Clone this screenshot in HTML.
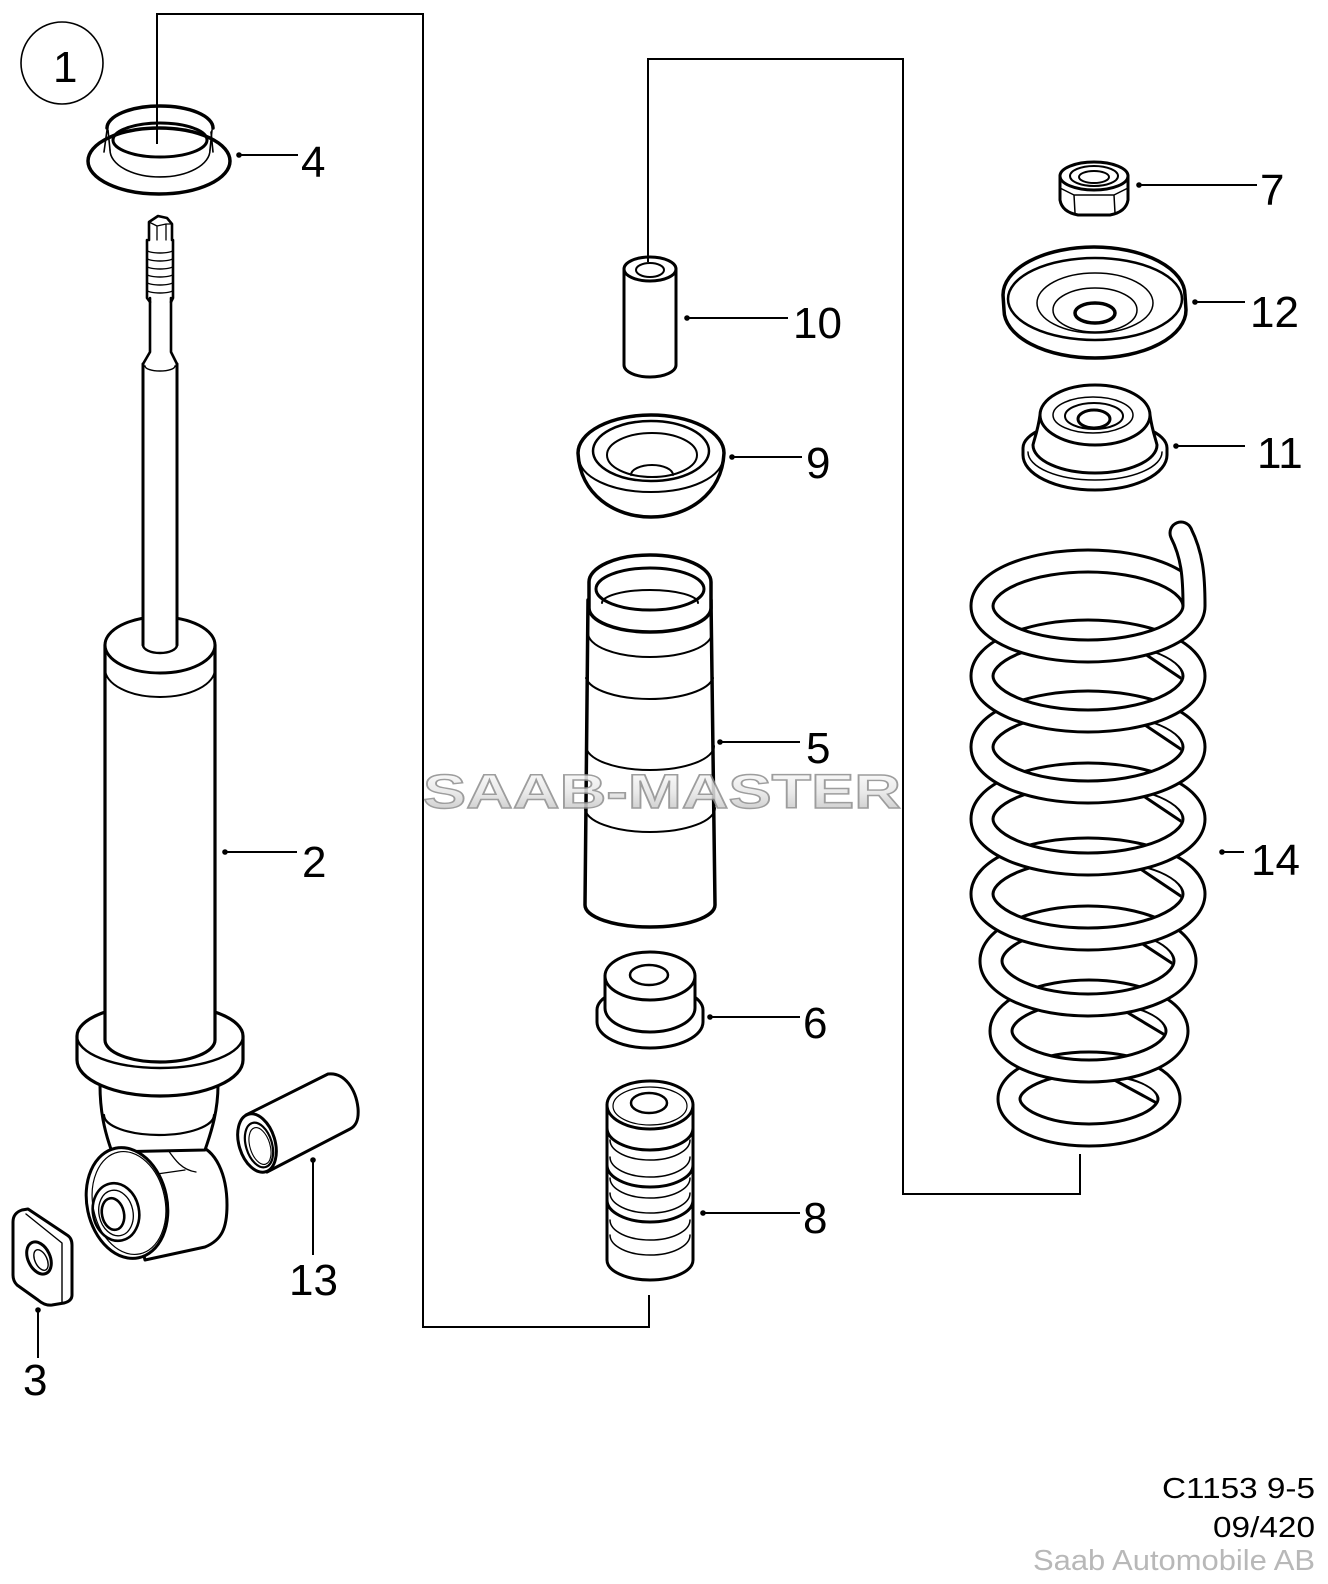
<!DOCTYPE html>
<html><head><meta charset="utf-8">
<style>html,body{margin:0;padding:0;background:#fff}svg{display:block}</style>
</head>
<body>
<svg width="1328" height="1584" viewBox="0 0 1328 1584" xmlns="http://www.w3.org/2000/svg">
<defs>
  <linearGradient id="wm" x1="0" y1="0" x2="0" y2="1">
    <stop offset="0" stop-color="#ffffff"/>
    <stop offset="0.5" stop-color="#e6e6e6"/>
    <stop offset="1" stop-color="#b8b8b8"/>
  </linearGradient>
  <clipPath id="h2"><ellipse cx="1088" cy="676" rx="93.5" ry="32.5"/></clipPath>
  <clipPath id="h3"><ellipse cx="1088" cy="747" rx="93.5" ry="32.5"/></clipPath>
  <clipPath id="h4"><ellipse cx="1088" cy="819" rx="93.5" ry="32.5"/></clipPath>
  <clipPath id="h5"><ellipse cx="1088" cy="894" rx="93.5" ry="32.5"/></clipPath>
  <clipPath id="h6"><ellipse cx="1088" cy="961" rx="84.5" ry="31.5"/></clipPath>
  <clipPath id="h7"><ellipse cx="1089" cy="1031" rx="75.5" ry="27.5"/></clipPath>
  <clipPath id="h8"><ellipse cx="1089" cy="1099" rx="67.5" ry="23.5"/></clipPath>
</defs>
<rect width="1328" height="1584" fill="#fff"/>

<g fill="none" stroke="#000" stroke-linecap="round" stroke-linejoin="round">

<!-- circle 1 -->
<circle cx="62" cy="63" r="41" stroke-width="1.6"/>

<!-- ===== Part 4 ===== -->
<ellipse cx="159" cy="161" rx="71" ry="33" stroke-width="3.5" fill="#fff"/>
<path d="M110,150 A50,27 0 0 0 210,150" stroke-width="1.6"/>
<path d="M107,130 L104,152 M211,132 L213,152" stroke-width="1.6"/>
<path d="M108,130 L110,150 M212,130 L210,150" stroke-width="1.6"/>
<path d="M107,128 A53,22 0 0 1 213,128" stroke-width="3.5"/>
<path d="M113,140 A47,17 0 0 1 207,140" stroke-width="3"/>
<path d="M113,140 A47,17 0 0 0 207,140" stroke-width="3"/>

<!-- ===== Part 2 shock ===== -->
<path d="M118,1147 L196,1145 C216,1149 227,1175 227,1205 C227,1228 222,1240 205,1247 L145,1260 Z" fill="#fff" stroke-width="3"/>
<path d="M100,1085 C100,1110 104,1130 112,1152 L205,1150 C212,1130 218,1110 218,1085 Z" fill="#fff" stroke-width="3"/>
<path d="M104,1115 A55,20 0 0 0 214,1115" stroke-width="2.2"/>
<path d="M168,1150 C175,1160 182,1170 196,1172 M150,1175 L185,1170" stroke-width="1.3"/>
<ellipse cx="127" cy="1203" rx="40" ry="56" transform="rotate(-12 127 1203)" fill="#fff" stroke-width="3"/>
<ellipse cx="129" cy="1203" rx="36" ry="52" transform="rotate(-12 129 1203)" stroke-width="1.2"/>
<ellipse cx="116" cy="1212" rx="23" ry="29" transform="rotate(-12 116 1212)" stroke-width="2.6"/>
<ellipse cx="116" cy="1213" rx="17" ry="23" transform="rotate(-12 116 1213)" stroke-width="1.3"/>
<ellipse cx="113" cy="1214" rx="11" ry="16" transform="rotate(-12 113 1214)" stroke-width="2.6"/>
<path d="M77,1036 A83,32 0 0 1 243,1036 L243,1060 A83,36 0 0 1 77,1060 Z" fill="#fff" stroke-width="3.2"/>
<path d="M77,1036 A83,32 0 0 0 243,1036" stroke-width="2.4"/>
<path d="M105,645 L105,1040 A55,22 0 0 0 215,1040 L215,645 Z" fill="#fff" stroke-width="3.2"/>
<ellipse cx="160" cy="645" rx="55" ry="28" fill="#fff" stroke-width="3"/>
<path d="M105,669 A55,28 0 0 0 215,669" stroke-width="2"/>
<rect x="143" y="362" width="34" height="283" fill="#fff" stroke="none"/>
<path d="M143,364 L143,645 M177,364 L177,645" stroke-width="3"/>
<path d="M143,645 A17,8 0 0 0 177,645" stroke-width="2.4"/>
<path d="M150,298 L150,352 L143,364 M171,298 L171,352 L177,364" stroke-width="2.6"/>
<path d="M145,366 A15,5 0 0 0 175,366" stroke-width="1.4"/>
<path d="M147,240 L147,298 L150,302 M173,240 L173,298 L171,302" stroke-width="2.6"/>
<path d="M147,250 A13,3 0 0 0 173,250 M147,258 A13,3 0 0 0 173,258 M147,266 A13,3 0 0 0 173,266 M147,274 A13,3 0 0 0 173,274 M147,282 A13,3 0 0 0 173,282 M147,290 A13,3 0 0 0 173,290" stroke-width="1.4"/>
<path d="M149,240 L149,222 L158,216 L167,218 L172,224 L172,240" stroke-width="2.6" fill="#fff"/>
<path d="M149,222 L157,226 L166,224 L172,224 M157,226 L157,240 M166,224 L166,240" stroke-width="1.3"/>

<!-- ===== Part 3 washer ===== -->
<path d="M13,1222 Q13,1213 22,1210 L28,1209 L67,1235 Q72,1238 72,1245 L72,1295 Q72,1301 64,1303 L52,1305 Q45,1306 38,1300 L17,1285 Q13,1281 13,1275 Z" fill="#fff" stroke-width="3"/>
<path d="M26,1214 L62,1243 L62,1302" stroke-width="1.4"/>
<ellipse cx="39" cy="1258" rx="11" ry="17" transform="rotate(-25 39 1258)" stroke-width="3"/>
<ellipse cx="41" cy="1260" rx="6" ry="11" transform="rotate(-25 41 1260)" stroke-width="1.4"/>

<!-- ===== Part 13 sleeve ===== -->
<path d="M246,1115 L328,1074 C345,1072 356,1090 358,1108 C359,1120 356,1126 350,1129 L267,1172 Z" fill="#fff" stroke-width="3"/>
<ellipse cx="257" cy="1143" rx="18" ry="30" transform="rotate(-17 257 1143)" fill="#fff" stroke-width="3"/>
<ellipse cx="259" cy="1145" rx="13" ry="23" transform="rotate(-17 259 1145)" stroke-width="2.2"/>
<ellipse cx="260" cy="1146" rx="10" ry="19" transform="rotate(-17 260 1146)" stroke-width="1.1"/>

<!-- ===== Part 10 ===== -->
<path d="M624,269 L624,365 A26,12 0 0 0 676,365 L676,269 Z" fill="#fff" stroke-width="3"/>
<ellipse cx="650" cy="269" rx="26" ry="12" fill="#fff" stroke-width="3"/>
<ellipse cx="650" cy="270" rx="14" ry="7" stroke-width="2"/>

<!-- ===== Part 9 ===== -->
<path d="M578,453 C580,495 615,517 651,517 C687,517 722,495 724,453 A73,38 0 0 0 578,453 Z" fill="#fff" stroke-width="3.5"/>
<path d="M579,458 A72,34 0 0 0 723,458" stroke-width="2"/>
<ellipse cx="651" cy="451" rx="58" ry="30" stroke-width="2.5"/>
<ellipse cx="652" cy="455" rx="45" ry="22" stroke-width="2"/>
<path d="M631,475 A21,10 0 0 1 673,475" stroke-width="2"/>

<!-- ===== Part 5 ===== -->
<path d="M588,600 L585,905 A65,22 0 0 0 715,905 L711,600" fill="#fff" stroke-width="3.5"/>
<path d="M589,582 L589,608 A61,24 0 0 0 711,608 L711,582 A61,27 0 0 0 589,582 Z" fill="#fff" stroke-width="3.5"/>
<ellipse cx="650" cy="589" rx="54" ry="21" stroke-width="3"/>
<path d="M602,603 A48,13 0 0 1 698,603" stroke-width="2"/>
<path d="M588,633 A62,24 0 0 0 712,633" stroke-width="2"/>
<path d="M586,678 A64,24 0 0 0 713,678" stroke-width="2"/>
<path d="M586,746 A64,24 0 0 0 714,746" stroke-width="2"/>
<path d="M585,808 A65,24 0 0 0 715,808" stroke-width="2"/>

<!-- ===== Part 6 ===== -->
<path d="M597,1010 L597,1022 A53,26 0 0 0 703,1022 L703,1010 A53,24 0 0 0 597,1010 Z" fill="#fff" stroke-width="3"/>
<path d="M605,976 L605,1008 A45,24 0 0 0 695,1008 L695,976 Z" fill="#fff" stroke-width="3"/>
<ellipse cx="650" cy="976" rx="45" ry="24" fill="#fff" stroke-width="3"/>
<ellipse cx="649" cy="975" rx="19" ry="10" stroke-width="2.5"/>

<!-- ===== Part 8 ===== -->
<path d="M607,1105 L607,1260 A43,20 0 0 0 693,1260 L693,1105 Z" fill="#fff" stroke-width="3"/>
<ellipse cx="650" cy="1105" rx="43" ry="24" fill="#fff" stroke-width="3"/>
<ellipse cx="650" cy="1106" rx="37" ry="19" stroke-width="1.2"/>
<ellipse cx="649" cy="1103" rx="18" ry="10" stroke-width="2.5"/>
<path d="M607,1128 A43,22 0 0 0 693,1128 M607,1165 A43,22 0 0 0 693,1165 M607,1200 A43,22 0 0 0 693,1200" stroke-width="3"/>
<path d="M610,1140 A40,20 0 0 0 690,1140 M610,1157 A40,20 0 0 0 690,1157 M610,1178 A40,20 0 0 0 690,1178 M610,1193 A40,20 0 0 0 690,1193 M610,1220 A40,20 0 0 0 690,1220 M610,1235 A40,20 0 0 0 690,1235" stroke-width="1.5"/>

<!-- ===== Part 7 nut ===== -->
<path d="M1060,176 L1060,200 Q1062,212 1078,215 L1110,215 Q1126,212 1128,200 L1128,176 Z" fill="#fff" stroke-width="3"/>
<ellipse cx="1094" cy="176" rx="34" ry="14" fill="#fff" stroke-width="3"/>
<ellipse cx="1094" cy="176" rx="24" ry="10" stroke-width="2"/>
<ellipse cx="1094" cy="177" rx="15" ry="6" stroke-width="2"/>
<path d="M1060,188 L1074,195 L1114,195 L1128,188 M1074,195 L1075,213 M1114,195 L1115,213" stroke-width="1.5"/>

<!-- ===== Part 12 ===== -->
<path d="M1003,295 L1004,310 A91,48 0 0 0 1186,310 L1185,295 A91,48 0 0 0 1003,295 Z" fill="#fff" stroke-width="3.5"/>
<ellipse cx="1095" cy="299" rx="87" ry="41" stroke-width="2.5"/>
<ellipse cx="1095" cy="303" rx="58" ry="30" stroke-width="1.5"/>
<ellipse cx="1095" cy="310" rx="42" ry="22" stroke-width="1.5"/>
<ellipse cx="1095" cy="313" rx="20" ry="10" stroke-width="3.5"/>

<!-- ===== Part 11 ===== -->
<path d="M1023,448 L1023,455 A72,35 0 0 0 1167,455 L1167,448 A72,28 0 0 0 1023,448 Z" fill="#fff" stroke-width="3"/>
<path d="M1028,452 A67,28 0 0 0 1162,452" stroke-width="1.5"/>
<path d="M1040,415 C1038,430 1034,440 1033,445 A62,28 0 0 0 1157,445 C1156,440 1152,430 1150,415 Z" fill="#fff" stroke-width="3"/>
<ellipse cx="1095" cy="415" rx="55" ry="30" fill="#fff" stroke-width="3"/>
<ellipse cx="1093" cy="415" rx="40" ry="18" stroke-width="1.5"/>
<ellipse cx="1094" cy="416" rx="29" ry="13" stroke-width="2"/>
<ellipse cx="1094" cy="419" rx="16" ry="9" stroke-width="3"/>

</g>

<!-- ===== Part 14 spring ===== -->
<g fill="none">
  <ellipse cx="1089" cy="1099" rx="80" ry="36" stroke="#000" stroke-width="25"/>
  <ellipse cx="1089" cy="1099" rx="80" ry="36" stroke="#fff" stroke-width="19"/>
  <g clip-path="url(#h8)">
    <path d="M1095,1057 L1165,1095" stroke="#000" stroke-width="25"/>
    <path d="M1095,1057 L1165,1095" stroke="#fff" stroke-width="19"/>
  </g>
  <ellipse cx="1089" cy="1031" rx="88" ry="40" stroke="#000" stroke-width="25"/>
  <ellipse cx="1089" cy="1031" rx="88" ry="40" stroke="#fff" stroke-width="19"/>
  <g clip-path="url(#h7)">
    <path d="M1103,985 L1173,1027" stroke="#000" stroke-width="25"/>
    <path d="M1103,985 L1173,1027" stroke="#fff" stroke-width="19"/>
  </g>
  <ellipse cx="1088" cy="961" rx="97" ry="44" stroke="#000" stroke-width="25"/>
  <ellipse cx="1088" cy="961" rx="97" ry="44" stroke="#fff" stroke-width="19"/>
  <g clip-path="url(#h6)">
    <path d="M1111,910 L1181,956" stroke="#000" stroke-width="25"/>
    <path d="M1111,910 L1181,956" stroke="#fff" stroke-width="19"/>
  </g>
  <ellipse cx="1088" cy="894" rx="106" ry="45" stroke="#000" stroke-width="25"/>
  <ellipse cx="1088" cy="894" rx="106" ry="45" stroke="#fff" stroke-width="19"/>
  <g clip-path="url(#h5)">
    <path d="M1120,842 L1190,889" stroke="#000" stroke-width="25"/>
    <path d="M1120,842 L1190,889" stroke="#fff" stroke-width="19"/>
  </g>
  <ellipse cx="1088" cy="819" rx="106" ry="45" stroke="#000" stroke-width="25"/>
  <ellipse cx="1088" cy="819" rx="106" ry="45" stroke="#fff" stroke-width="19"/>
  <g clip-path="url(#h4)">
    <path d="M1120,767 L1190,814" stroke="#000" stroke-width="25"/>
    <path d="M1120,767 L1190,814" stroke="#fff" stroke-width="19"/>
  </g>
  <ellipse cx="1088" cy="747" rx="106" ry="45" stroke="#000" stroke-width="25"/>
  <ellipse cx="1088" cy="747" rx="106" ry="45" stroke="#fff" stroke-width="19"/>
  <g clip-path="url(#h3)">
    <path d="M1120,695 L1190,742" stroke="#000" stroke-width="25"/>
    <path d="M1120,695 L1190,742" stroke="#fff" stroke-width="19"/>
  </g>
  <ellipse cx="1088" cy="676" rx="106" ry="45" stroke="#000" stroke-width="25"/>
  <ellipse cx="1088" cy="676" rx="106" ry="45" stroke="#fff" stroke-width="19"/>
  <g clip-path="url(#h2)">
    <path d="M1120,624 L1190,671" stroke="#000" stroke-width="25"/>
    <path d="M1120,624 L1190,671" stroke="#fff" stroke-width="19"/>
  </g>
  <ellipse cx="1088" cy="606" rx="106" ry="45" stroke="#000" stroke-width="25"/>
  <ellipse cx="1088" cy="606" rx="106" ry="45" stroke="#fff" stroke-width="19"/>
  <path d="M1194,606 C1194,575 1192,555 1181,533" stroke="#000" stroke-width="25" stroke-linecap="butt"/>
  <circle cx="1181" cy="533" r="12.5" fill="#000"/>
  <path d="M1194,606 C1194,575 1192,555 1181,533" stroke="#fff" stroke-width="19" stroke-linecap="butt"/>
  <circle cx="1181" cy="533" r="9.5" fill="#fff"/>
</g>

<!-- ===== connectors ===== -->
<g fill="none" stroke="#000" stroke-width="2" stroke-linejoin="miter">
  <polyline points="157,144 157,14 423,14 423,1327 649,1327 649,1295"/>
  <polyline points="648,262 648,59 903,59 903,1194 1080,1194 1080,1154"/>
</g>

<!-- ===== leaders ===== -->
<g stroke="#000" stroke-width="2" fill="none">
  <path d="M239,155 L298,155"/>
  <path d="M225,852 L297,852"/>
  <path d="M313,1160 L313,1255"/>
  <path d="M38,1310 L38,1358"/>
  <path d="M687,318 L788,318"/>
  <path d="M732,457 L802,457"/>
  <path d="M720,742 L800,742"/>
  <path d="M710,1017 L800,1017"/>
  <path d="M703,1213 L800,1213"/>
  <path d="M1139,185 L1257,185"/>
  <path d="M1195,302 L1245,302"/>
  <path d="M1176,446 L1245,446"/>
  <path d="M1222,852 L1244,852"/>
</g>
<g fill="#000">
  <circle cx="239" cy="155" r="2.8"/>
  <circle cx="225" cy="852" r="2.8"/>
  <circle cx="313" cy="1160" r="2.8"/>
  <circle cx="38" cy="1310" r="2.8"/>
  <circle cx="687" cy="318" r="2.8"/>
  <circle cx="732" cy="457" r="2.8"/>
  <circle cx="720" cy="742" r="2.8"/>
  <circle cx="710" cy="1017" r="2.8"/>
  <circle cx="703" cy="1213" r="2.8"/>
  <circle cx="1139" cy="185" r="2.8"/>
  <circle cx="1195" cy="302" r="2.8"/>
  <circle cx="1176" cy="446" r="2.8"/>
  <circle cx="1222" cy="852" r="2.8"/>
</g>

<!-- ===== labels ===== -->
<g font-family="'Liberation Sans', Arial, sans-serif" font-size="44" fill="#000">
  <text x="53" y="82">1</text>
  <text x="301" y="177">4</text>
  <text x="302" y="877">2</text>
  <text x="289" y="1295">13</text>
  <text x="23" y="1395">3</text>
  <text x="793" y="338">10</text>
  <text x="806" y="478">9</text>
  <text x="806" y="763">5</text>
  <text x="803" y="1038">6</text>
  <text x="803" y="1233">8</text>
  <text x="1260" y="205">7</text>
  <text x="1250" y="327">12</text>
  <text x="1257" y="468">11</text>
  <text x="1251" y="875">14</text>
</g>

<!-- watermark -->
<text x="423" y="808" font-family="'Liberation Sans', Arial, sans-serif" font-weight="bold" font-size="48" textLength="478" lengthAdjust="spacingAndGlyphs" fill="url(#wm)" stroke="#8c8c8c" stroke-width="1.4" opacity="0.85">SAAB-MASTER</text>

<!-- footer -->
<g font-family="'Liberation Sans', Arial, sans-serif" font-size="29">
  <text x="1162" y="1498" textLength="153" lengthAdjust="spacingAndGlyphs" fill="#000">C1153 9-5</text>
  <text x="1213" y="1537" textLength="102" lengthAdjust="spacingAndGlyphs" fill="#000">09/420</text>
  <text x="1033" y="1570" textLength="282" lengthAdjust="spacingAndGlyphs" fill="#b8b8b8">Saab Automobile AB</text>
</g>
</svg>
</body></html>
